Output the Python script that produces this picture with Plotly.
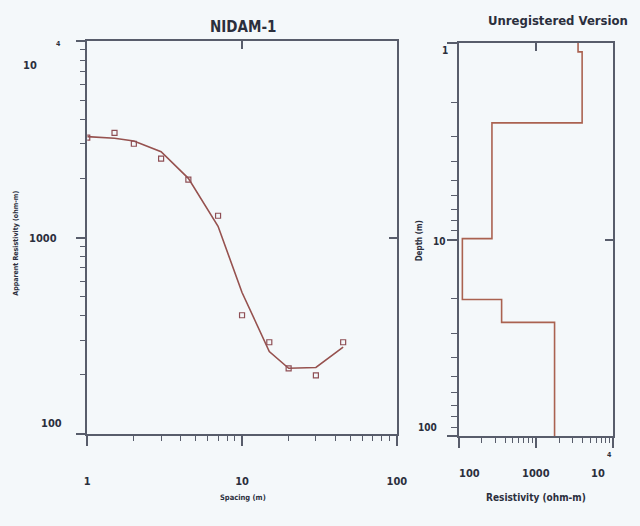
import plotly.graph_objects as go

# ---------------- data ----------------
spacing = [1, 1.5, 2, 3, 4.5, 7, 10, 15, 20, 30, 45]
observed = [3220, 3410, 3000, 2520, 1970, 1290, 402, 293, 216, 199, 293]
calculated = [3260, 3200, 3100, 2735, 2000, 1140, 525, 263, 216, 218, 277]

layer_top_depth = [1, 1.11, 2.55, 9.9, 20.2, 26.4]
layer_resistivity = [3500, 3950, 270, 112, 360, 1740]
model_bottom_depth = 100

x_ticks_left = [1, 10, 100]
x_ticklabels_left = ["1", "10", "100"]

W, H = 640, 526
FONT = "DejaVu Sans Condensed, Liberation Sans Narrow, DejaVu Sans, sans-serif"
TXT = "#2b2f3d"
AX = "#585d6b"
BG = "#f4f8fa"


def px(x):
    return x / W


def py(y):
    return 1 - y / H


def fnt(size):
    return dict(size=size, family=FONT, color=TXT, weight="bold")


fig = go.Figure()

# left panel: observed points + calculated curve
fig.add_trace(go.Scatter(
    x=spacing, y=calculated, mode="lines",
    line=dict(color="#96524f", width=1.6), xaxis="x", yaxis="y",
    showlegend=False))
fig.add_trace(go.Scatter(
    x=spacing, y=observed, mode="markers",
    marker=dict(symbol="square-open", size=5, color="#8e4f55",
                line=dict(width=1.2, color="#8e4f55")),
    xaxis="x", yaxis="y", showlegend=False))

# right panel: layered model (step)
step_x = layer_resistivity + [layer_resistivity[-1]]
step_y = layer_top_depth + [model_bottom_depth]
fig.add_trace(go.Scatter(
    x=step_x, y=step_y, mode="lines", line_shape="vh",
    line=dict(color="#aa6250", width=1.6), xaxis="x2", yaxis="y2",
    showlegend=False))

# helper traces for overlay axes (inward mirrored ticks)
fig.add_trace(go.Scatter(x=[], y=[], xaxis="x3", yaxis="y3", showlegend=False))
fig.add_trace(go.Scatter(x=[], y=[], xaxis="x4", yaxis="y4", showlegend=False))

minor_low = [2, 3, 4, 5, 6, 7, 8, 9]
minor_left_x = minor_low + [v * 10 for v in minor_low]
minor_left_y = [v * 100 for v in minor_low] + [v * 1000 for v in minor_low]
minor_right_x = minor_left_y
minor_right_y = minor_left_x

common = dict(type="log", showgrid=False, zeroline=False, showline=True,
              linecolor=AX, linewidth=1.5, mirror=True, ticks="outside",
              tickcolor=AX, tickwidth=1.5, ticklen=10)

fig.update_layout(
    width=W, height=H,
    margin=dict(l=0, r=0, t=0, b=0),
    paper_bgcolor=BG, plot_bgcolor=BG,
    font=dict(family=FONT, color=TXT),
    xaxis=dict(**common, domain=[px(86), px(402)], range=[0, 2], anchor="y",
               tickvals=x_ticks_left, ticktext=x_ticklabels_left,
               tickfont=fnt(11),
               ticklabelstandoff=26,
               minor=dict(tickmode="array", tickvals=minor_left_x,
                          ticks="outside", ticklen=5, tickcolor=AX,
                          tickwidth=1.2)),
    yaxis=dict(**common, domain=[py(434), py(41)], range=[2, 4], anchor="x",
               tickvals=[100, 1000, 10000], showticklabels=False,
               minor=dict(tickmode="array", tickvals=minor_left_y,
                          ticks="outside", ticklen=6, tickcolor=AX,
                          tickwidth=1.2)),
    xaxis2=dict(**common, domain=[px(465), px(623)], range=[2, 4], anchor="y2",
                tickvals=[100, 1000, 10000], showticklabels=False,
                minor=dict(tickmode="array", tickvals=minor_right_x,
                           ticks="outside", ticklen=5, tickcolor=AX,
                           tickwidth=1.2)),
    yaxis2=dict(**common, domain=[py(436), py(43)], range=[2, 0], anchor="x2",
                tickvals=[1, 10, 100], showticklabels=False,
                minor=dict(tickmode="array", tickvals=minor_right_y,
                           ticks="outside", ticklen=6, tickcolor=AX,
                           tickwidth=1.2)),
    xaxis3=dict(type="log", overlaying="x", side="top", range=[0, 2],
                tickvals=[10], ticks="inside", ticklen=8, tickwidth=1.5,
                tickcolor=AX, showticklabels=False, showgrid=False,
                showline=False, zeroline=False, anchor="y3"),
    yaxis3=dict(type="log", overlaying="y", side="right", range=[2, 4],
                tickvals=[1000], ticks="inside", ticklen=8, tickwidth=1.5,
                tickcolor=AX, showticklabels=False, showgrid=False,
                showline=False, zeroline=False, anchor="x3"),
    xaxis4=dict(type="log", overlaying="x2", side="top", range=[2, 4],
                tickvals=[1000], ticks="inside", ticklen=8, tickwidth=1.5,
                tickcolor=AX, showticklabels=False, showgrid=False,
                showline=False, zeroline=False, anchor="y4"),
    yaxis4=dict(type="log", overlaying="y2", side="right", range=[2, 0],
                tickvals=[10], ticks="inside", ticklen=8, tickwidth=1.5,
                tickcolor=AX, showticklabels=False, showgrid=False,
                showline=False, zeroline=False, anchor="x4"),
)


def label(text, x, y, size, angle=0):
    fig.add_annotation(text=text, x=px(x), y=py(y), xref="paper", yref="paper",
                       showarrow=False, textangle=angle,
                       xanchor="center", yanchor="middle", font=fnt(size))


# titles
label("NIDAM-1", 245, 27, 15)
label("Unregistered Version", 567, 21, 13)

# left y tick labels
label("10", 28, 65, 11)
label("4", 57, 44, 7)
label("1000", 41, 238, 11)
label("100", 50, 423, 11)

# right y tick labels
label("1", 451, 50, 10)
label("10", 446, 241, 10)
label("100", 433, 427, 10)

# right x tick labels
label("100", 476, 473, 11)
label("1000", 544, 473, 11)
label("10", 607, 473, 11)
label("4", 619, 455, 7)

# axis titles
label("Apparent Resistivity (ohm-m)", 13, 243, 7, angle=-90)
label("Spacing (m)", 245, 497, 7.5)
label("Depth (m)", 425, 241, 8, angle=-90)
label("Resistivity (ohm-m)", 544, 497, 10)

fig.write_html("out.html",
               config={"displayModeBar": False},
               post_script="document.body.style.margin='0';"
                           "document.body.style.overflow='hidden';")
